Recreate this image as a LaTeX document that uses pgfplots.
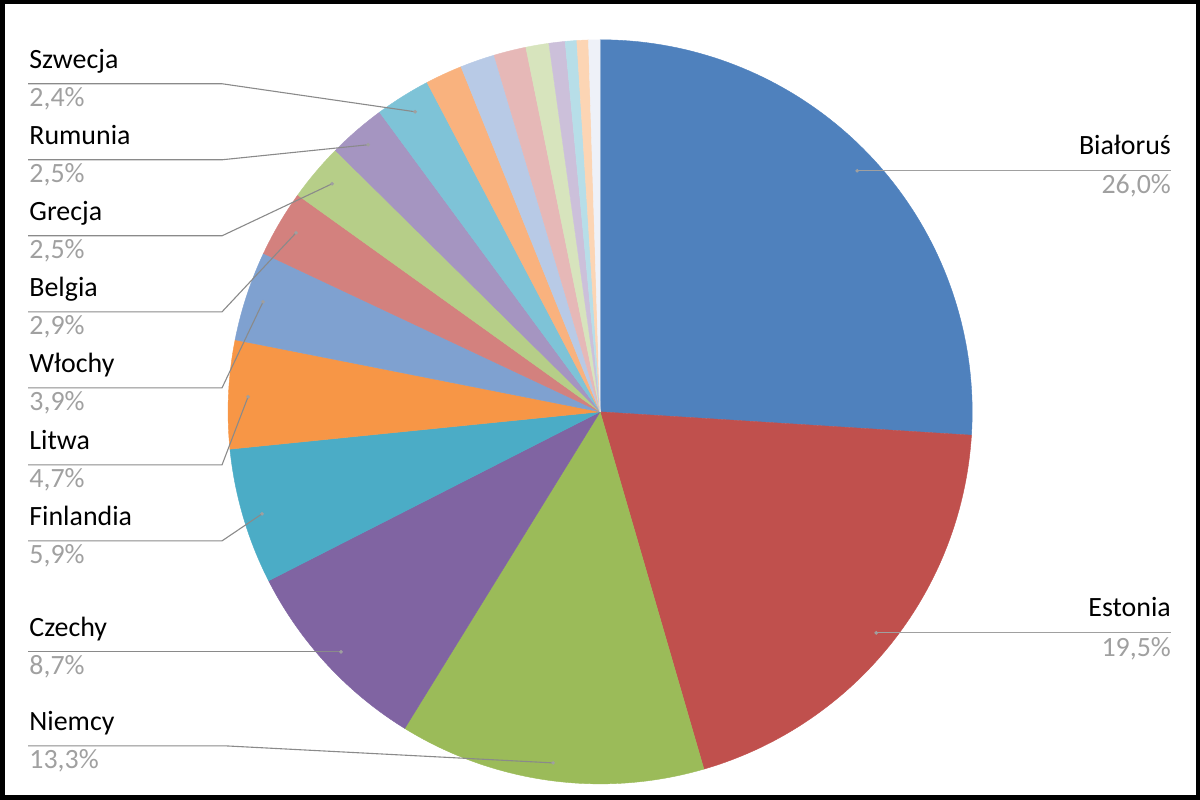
\documentclass[border=0pt]{standalone}
\usepackage{pgfplots}
\pgfplotsset{compat=1.18}
\usepackage{fontspec}
\setmainfont{Carlito}

% slice colours
\definecolor{cA}{HTML}{4F81BD}
\definecolor{cB}{HTML}{C0504D}
\definecolor{cC}{HTML}{9BBB59}
\definecolor{cD}{HTML}{8064A2}
\definecolor{cE}{HTML}{4BACC6}
\definecolor{cF}{HTML}{F79646}
\definecolor{cG}{HTML}{7FA1D0}
\definecolor{cH}{HTML}{D3817E}
\definecolor{cI}{HTML}{B6CE88}
\definecolor{cJ}{HTML}{A595C1}
\definecolor{cK}{HTML}{7EC3D7}
\definecolor{cL}{HTML}{F9B27E}
\definecolor{cM}{HTML}{B8CAE6}
\definecolor{cN}{HTML}{E6B8B7}
\definecolor{cO}{HTML}{D7E4BD}
\definecolor{cP}{HTML}{CCC0DA}
\definecolor{cQ}{HTML}{B7DEE8}
\definecolor{cR}{HTML}{FCD5B4}
\definecolor{cS}{HTML}{EEF1F8}
\definecolor{pct}{HTML}{A0A0A0}
\definecolor{lead}{HTML}{8A8A8A}

% share of each country (%), clockwise from the top
\def\piedata{26.0/cA,19.5/cB,13.3/cC,8.7/cD,5.9/cE,4.7/cF,3.9/cG,2.9/cH,2.5/cI,2.5/cJ,2.4/cK,1.6/cL,1.5/cM,1.4/cN,1.0/cO,0.7/cP,0.5/cQ,0.5/cR,0.5/cS}

\newcommand\lblfont{\fontsize{14}{16.8}\selectfont}
\tikzset{
  nm/.style={anchor=base west, inner sep=0pt, font=\lblfont},
  pc/.style={anchor=base west, inner sep=0pt, font=\lblfont, text=pct},
}

\begin{document}
\begin{tikzpicture}
\begin{axis}[
  scale only axis, width=600bp, height=400bp,
  xmin=0, xmax=1200, ymin=0, ymax=800,
  hide axis, clip=false,
  leader/.style={lead, line width=0.55bp, no marks},
  dot/.style={only marks, mark=*, mark size=0.7bp, mark options={fill=pct, draw=pct}},
]
% pie slices, centre (600,388), radius 372
\xdef\angstart{90}
\foreach \v/\c in \piedata {
  \pgfmathsetmacro\angend{\angstart-3.6*\v}
  \edef\temp{\noexpand\addplot[fill=\c, draw=\c, line width=0.2bp, domain=\angend:\angstart, samples=80, variable=\noexpand\t]
    ({600+372*cos(\noexpand\t)},{388+372*sin(\noexpand\t)}) -- (axis cs:600,388) -- cycle;}
  \temp
  \xdef\angstart{\angend}
}

% leader lines
\addplot[leader] coordinates {(28,716) (222,716) (415,688)};
\addplot[leader] coordinates {(28,640) (222,640) (368,655)};
\addplot[leader] coordinates {(28,564) (222,564) (332,616)};
\addplot[leader] coordinates {(28,488) (222,488) (296,567)};
\addplot[leader] coordinates {(28,412) (222,412) (263,498)};
\addplot[leader] coordinates {(28,335) (222,335) (248,403)};
\addplot[leader] coordinates {(28,259) (222,259) (262,286)};
\addplot[leader] coordinates {(28,148) (341,148)};
\addplot[leader] coordinates {(28,54) (226,54) (553,37)};
\addplot[leader, draw=pct] coordinates {(857,629) (1171,629)};
\addplot[leader, draw=pct] coordinates {(876,167) (1171,167)};
\addplot[dot] coordinates {(415,688) (368,655) (332,616) (296,567) (263,498) (248,403) (262,286) (341,148) (553,37) (857,629) (876,167)};

% labels
\node[nm] at (axis cs:29,731) {Szwecja};
\node[pc] at (axis cs:29,693) {2,4\%};
\node[nm] at (axis cs:29,655) {Rumunia};
\node[pc] at (axis cs:29,617) {2,5\%};
\node[nm] at (axis cs:29,579) {Grecja};
\node[pc] at (axis cs:29,541) {2,5\%};
\node[nm] at (axis cs:29,503) {Belgia};
\node[pc] at (axis cs:29,465) {2,9\%};
\node[nm] at (axis cs:29,427) {Włochy};
\node[pc] at (axis cs:29,389) {3,9\%};
\node[nm] at (axis cs:29,350) {Litwa};
\node[pc] at (axis cs:29,312) {4,7\%};
\node[nm] at (axis cs:29,274) {Finlandia};
\node[pc] at (axis cs:29,236) {5,9\%};
\node[nm] at (axis cs:29,163) {Czechy};
\node[pc] at (axis cs:29,125) {8,7\%};
\node[nm] at (axis cs:29,69) {Niemcy};
\node[pc] at (axis cs:29,31) {13,3\%};
\node[nm, anchor=base east] at (axis cs:1171,645) {Białoruś};
\node[pc, anchor=base east] at (axis cs:1171,606) {26,0\%};
\node[nm, anchor=base east] at (axis cs:1171,183) {Estonia};
\node[pc, anchor=base east] at (axis cs:1171,143) {19,5\%};

% frame
\draw[black, line width=2.25bp] (axis cs:2.25,2.5) rectangle (axis cs:1197.5,797.5);
\end{axis}
\end{tikzpicture}
\end{document}
